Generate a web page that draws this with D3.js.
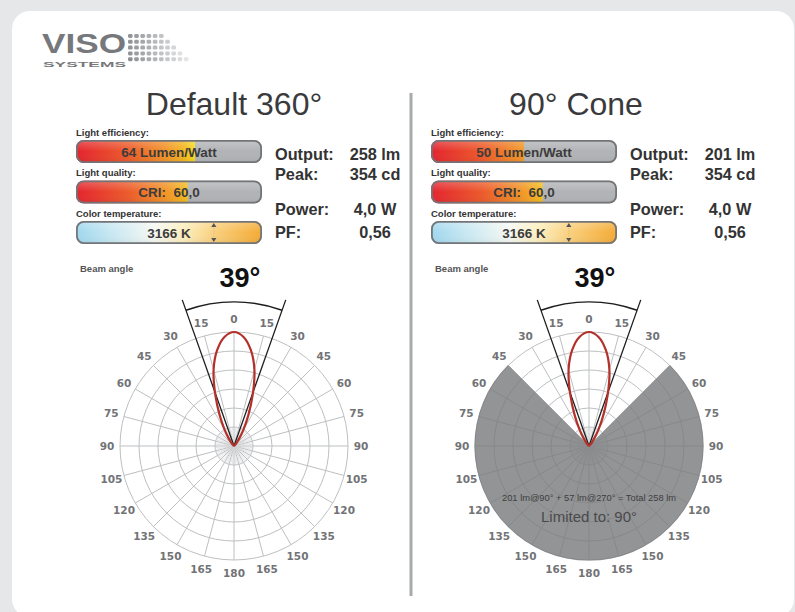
<!DOCTYPE html>
<html>
<head>
<meta charset="utf-8">
<script src="https://cdn.jsdelivr.net/npm/d3@7"></script>
<style>
  html, body { margin: 0; padding: 0; background: #e6e7e8; }
  svg { display: block; font-family: "Liberation Sans", Arial, sans-serif; }
</style>
</head>
<body>
<svg id="chart" width="795" height="612"></svg>
<script>
// ---- Photometric summary for each configuration ----
const panelTitles   = ["Default 360°", "90° Cone"];
const efficiency    = [64, 50];          // lumen per watt
const criValues     = [60.0, 60.0];
const cctValues     = [3166, 3166];      // kelvin
const outputLm      = [258, 201];
const peakCd        = [354, 354];
const powerW        = [4.0, 4.0];
const powerFactor   = [0.56, 0.56];
const beamAngles    = [39, 39];          // degrees
const coneLimits    = [360, 90];         // degrees of the measuring cone

// Lumens split for the limited cone
const lmInside  = 201;
const lmOutside = 57;
const lmTotal   = 258;

// Intensity profile (cd) from the axis outward, symmetric about 0°
const profileAngles = [0, 5, 10, 15, 20, 25, 30, 35, 40, 45, 50, 55, 60, 65, 70, 75, 80, 85, 90];
const profileCd     = [354, 340, 302, 245, 170, 105, 58, 28, 12, 5, 2, 1, 0, 0, 0, 0, 0, 0, 0];

// Polar angle labels
const angleTicks = [0, 15, 30, 45, 60, 75, 90, 105, 120, 135, 150, 165, 180];

// ---- Setup ----
const svg = d3.select("#chart");
const fmt1 = d3.formatLocale({decimal: ",", thousands: ".", grouping: [3], currency: ["", ""]});
const f1 = fmt1.format(".1f"), f2 = fmt1.format(".2f");

const defs = svg.append("defs");

// card
svg.append("rect").attr("x", 12).attr("y", 11).attr("width", 782).attr("height", 606)
  .attr("rx", 18).attr("fill", "#ffffff");

// ---- Logo ----
const logo = svg.append("g").attr("class", "logo");
logo.append("text").attr("x", 42).attr("y", 53).attr("font-size", 28).attr("font-weight", "bold")
  .attr("textLength", 84).attr("lengthAdjust", "spacingAndGlyphs")
  .attr("fill", "#76787b").text("VISO");
logo.append("text").attr("x", 43).attr("y", 66.5).attr("font-size", 8).attr("font-weight", "bold")
  .attr("textLength", 83).attr("lengthAdjust", "spacingAndGlyphs")
  .attr("fill", "#76787b").text("SYSTEMS");
const dotRows = [6, 7, 8, 9, 10];
const dotColor = d3.scaleLinear().domain([0, 9]).range(["#8d8f92", "#e3e4e5"]);
dotRows.forEach((n, r) => {
  for (let k = 0; k < n; k++) {
    logo.append("rect").attr("x", 128 + k * 6.2).attr("y", 34 + r * 5.8)
      .attr("width", 4.6).attr("height", 4).attr("rx", 1.4)
      .attr("fill", dotColor(k + (r === 4 ? 0 : 0.5)));
  }
});

// divider
svg.append("rect").attr("x", 409.5).attr("y", 93).attr("width", 3).attr("height", 503).attr("fill", "#a7a9ac");

// ---- Gradients ----
function addGradient(id, x1, x2, stops) {
  const g = defs.append("linearGradient").attr("id", id)
    .attr("gradientUnits", "userSpaceOnUse").attr("x1", x1).attr("x2", x2).attr("y1", 0).attr("y2", 0);
  stops.forEach(([o, c]) => g.append("stop").attr("offset", o).attr("stop-color", c));
}
const warmStops = [[0, "#e4232f"], [0.28, "#ec5b2b"], [0.48, "#f19328"], [0.58, "#f3b520"], [0.64, "#f3dc1e"], [1, "#f7f01a"]];
const cctStops  = [[0, "#9fd7ee"], [0.18, "#c6e7f2"], [0.42, "#f5f8f3"], [0.58, "#fdeebd"], [0.75, "#f9cf7c"], [1, "#f4aa35"]];
const glossId = "gloss";
const gl = defs.append("linearGradient").attr("id", glossId).attr("x1", 0).attr("x2", 0).attr("y1", 0).attr("y2", 1);
gl.append("stop").attr("offset", 0).attr("stop-color", "#ffffff").attr("stop-opacity", 0.25);
gl.append("stop").attr("offset", 0.5).attr("stop-color", "#ffffff").attr("stop-opacity", 0.0);
gl.append("stop").attr("offset", 1).attr("stop-color", "#000000").attr("stop-opacity", 0.06);

const panelOffset = 355;
const barX = 76, barW = 186, barH = 23, barRx = 8;
const pctScale = d3.scaleLinear().domain([0, 100]).range([0, barW]);
const cctScale = d3.scaleLinear().domain([6500, 2000]).range([0, barW]);

// polar geometry
const R = 114, cyPolar = 446, cxPolar = 234;
const rScale = d3.scaleLinear().domain([0, d3.max(peakCd)]).range([0, R]);
const aScale = d3.scaleLinear().domain([0, 180]).range([0, Math.PI]);

function drawBar(g, id, y, fillWidth, stops, text, marker) {
  const clipId = "clip-" + id;
  defs.append("clipPath").attr("id", clipId)
    .append("rect").attr("x", g.x0).attr("y", y).attr("width", barW).attr("height", barH).attr("rx", barRx);
  addGradient("grad-" + id, g.x0, g.x0 + barW, stops);
  const b = g.sel.append("g");
  const inner = b.append("g").attr("clip-path", `url(#${clipId})`);
  inner.append("rect").attr("x", g.x0).attr("y", y).attr("width", barW).attr("height", barH).attr("fill", "#b2b3b6");
  inner.append("rect").attr("x", g.x0).attr("y", y).attr("width", fillWidth).attr("height", barH).attr("fill", `url(#grad-${id})`);
  inner.append("rect").attr("x", g.x0).attr("y", y).attr("width", barW).attr("height", barH).attr("fill", `url(#${glossId})`);
  b.append("rect").attr("x", g.x0 + 0.9).attr("y", y + 0.9).attr("width", barW - 1.8).attr("height", barH - 1.8)
    .attr("rx", barRx - 1).attr("fill", "none").attr("stroke", "#737477").attr("stroke-width", 1.8);
  b.append("text").attr("x", g.x0 + barW / 2).attr("y", y + 16.8).attr("text-anchor", "middle")
    .attr("font-size", 13.5).attr("font-weight", "bold").attr("fill", "#3c3c3c")
    .style("white-space", "pre").text(text);
  if (marker != null) {
    const mx = g.x0 + marker;
    b.append("path").attr("d", `M${mx - 2.6},${y + 6} L${mx + 2.6},${y + 6} L${mx},${y + 2} Z`).attr("fill", "#555");
    b.append("path").attr("d", `M${mx - 2.6},${y + barH - 6} L${mx + 2.6},${y + barH - 6} L${mx},${y + barH - 2} Z`).attr("fill", "#555");
    b.append("line").attr("x1", mx).attr("x2", mx).attr("y1", y + 7).attr("y2", y + barH - 7)
      .attr("stroke", "#b9a77a").attr("stroke-width", 0.6).attr("stroke-dasharray", "1,1.5");
  }
}

const lobePoints = profileAngles.slice().reverse().map((a, k) => ({a: -a, v: profileCd[profileCd.length - 1 - k]}))
  .concat(profileAngles.slice(1).map((a, k) => ({a: a, v: profileCd[k + 1]})));

const titleX = [234, 576];

panelTitles.forEach((title, i) => {
  const off = i * panelOffset;
  const sel = svg.append("g").attr("class", "panel");
  const g = {sel, x0: barX + off};

  // title
  sel.append("text").attr("x", titleX[i]).attr("y", 115).attr("text-anchor", "middle")
    .attr("font-size", 32).attr("fill", "#3a3a3c").text(title);

  // bar captions
  const cap = (txt, y) => sel.append("text").attr("x", barX + off).attr("y", y)
    .attr("font-size", 9.5).attr("font-weight", "bold").attr("fill", "#333").text(txt);
  cap("Light efficiency:", 135.5);
  cap("Light quality:", 176);
  cap("Color temperature:", 216.5);

  drawBar(g, "eff" + i, 140, pctScale(efficiency[i]), warmStops, `${efficiency[i]} Lumen/Watt`, null);
  drawBar(g, "cri" + i, 180.5, pctScale(criValues[i]), warmStops, `CRI:  ${f1(criValues[i])}`, null);
  drawBar(g, "cct" + i, 221, barW, cctStops, `${cctValues[i]} K`, cctScale(cctValues[i]));

  // stats
  const stats = [
    ["Output:", `${outputLm[i]} lm`, 160],
    ["Peak:", `${peakCd[i]} cd`, 179.5],
    ["Power:", `${f1(powerW[i])} W`, 215],
    ["PF:", f2(powerFactor[i]), 237.5]
  ];
  stats.forEach(([lab, val, y]) => {
    sel.append("text").attr("x", 275 + off).attr("y", y).attr("font-size", 16.3).attr("font-weight", "bold")
      .attr("fill", "#333").text(lab);
    sel.append("text").attr("x", 375 + off).attr("y", y).attr("text-anchor", "middle")
      .attr("font-size", 16.3).attr("font-weight", "bold").attr("fill", "#333").text(val);
  });

  // beam angle heading
  sel.append("text").attr("x", 80 + off).attr("y", 271.5).attr("font-size", 9.5).attr("font-weight", "bold")
    .attr("fill", "#555").text("Beam angle");
  sel.append("text").attr("x", 240 + off).attr("y", 286.5).attr("text-anchor", "middle")
    .attr("font-size", 27).attr("font-weight", "bold").attr("fill", "#111").text(`${beamAngles[i]}°`);

  // ---- polar plot ----
  const cx = cxPolar + off, cy = cyPolar;
  const pg = sel.append("g").attr("transform", `translate(${cx},${cy})`);

  // grid rings & spokes
  const rings = [1, 2, 3, 4, 5, 6].map(k => R * k / 6);
  pg.selectAll("circle.ring").data(rings).join("circle").attr("class", "ring")
    .attr("r", d => d).attr("fill", "none").attr("stroke", "#bdbfc1").attr("stroke-width", 1);
  const spokes = d3.range(0, 360, 15);
  pg.selectAll("line.spoke").data(spokes).join("line").attr("class", "spoke")
    .attr("x1", 0).attr("y1", 0)
    .attr("x2", d => R * Math.sin(aScale(d))).attr("y2", d => -R * Math.cos(aScale(d)))
    .attr("stroke", "#bdbfc1").attr("stroke-width", 1);
  const fine = d3.range(0, 360, 5).filter(d => d % 15 !== 0);
  pg.selectAll("line.fine").data(fine).join("line").attr("class", "fine")
    .attr("x1", 0).attr("y1", 0)
    .attr("x2", d => R / 6 * Math.sin(aScale(d))).attr("y2", d => -R / 6 * Math.cos(aScale(d)))
    .attr("stroke", "#d3d5d6").attr("stroke-width", 0.6);

  // blocked region outside the measuring cone (grid shows faintly through)
  if (coneLimits[i] < 360) {
    const half = aScale(coneLimits[i] / 2);
    pg.append("path").attr("d", d3.arc().innerRadius(0).outerRadius(R + 0.6)
      .startAngle(half).endAngle(2 * Math.PI - half)()).attr("fill", "#78797c").attr("fill-opacity", 0.8);
  }

  // angle labels on both sides
  const labelR = 127;
  const labelData = [];
  angleTicks.forEach(t => {
    labelData.push({t, a: t});
    if (t !== 0 && t !== 180) labelData.push({t, a: -t});
  });
  pg.selectAll("text.tick").data(labelData).join("text").attr("class", "tick")
    .attr("x", d => labelR * Math.sin(aScale(d.a)))
    .attr("y", d => -labelR * Math.cos(aScale(d.a)))
    .attr("text-anchor", "middle").attr("dominant-baseline", "central")
    .attr("font-family", "'DejaVu Sans', sans-serif").attr("font-size", 10.5).attr("font-weight", "bold")
    .attr("fill", "#727376").text(d => d.t);

  // beam angle markers
  const halfBeam = aScale(beamAngles[i] / 2);
  [-1, 1].forEach(s => {
    pg.append("line").attr("x1", 0).attr("y1", 0)
      .attr("x2", s * 155 * Math.sin(halfBeam)).attr("y2", -155 * Math.cos(halfBeam))
      .attr("stroke", "#1e1e1e").attr("stroke-width", 1.3);
  });
  const arcP = d3.path();
  arcP.arc(0, 0, 144, -Math.PI / 2 - halfBeam, -Math.PI / 2 + halfBeam);
  pg.append("path").attr("d", arcP.toString()).attr("fill", "none").attr("stroke", "#1e1e1e").attr("stroke-width", 1.6);

  // luminous intensity curve
  const lobe = d3.lineRadial().angle(d => aScale(d.a)).radius(d => rScale(d.v)).curve(d3.curveCatmullRom);
  pg.append("path").attr("d", lobe(lobePoints)).attr("fill", "none")
    .attr("stroke", "#b3302b").attr("stroke-width", 2.2).attr("stroke-linejoin", "round");

  if (coneLimits[i] < 360) {
    pg.append("text").attr("x", 0).attr("y", 54.5).attr("text-anchor", "middle")
      .attr("font-size", 9.3).attr("fill", "#3e3e40")
      .text(`${lmInside} lm@${coneLimits[i]}° + ${lmOutside} lm@${360 - coneLimits[i]}° = Total ${lmTotal} lm`);
    pg.append("text").attr("x", 0).attr("y", 76).attr("text-anchor", "middle")
      .attr("font-size", 15).attr("fill", "#4a4a4c").text(`Limited to: ${coneLimits[i]}°`);
  }
});
</script>
</body>
</html>
